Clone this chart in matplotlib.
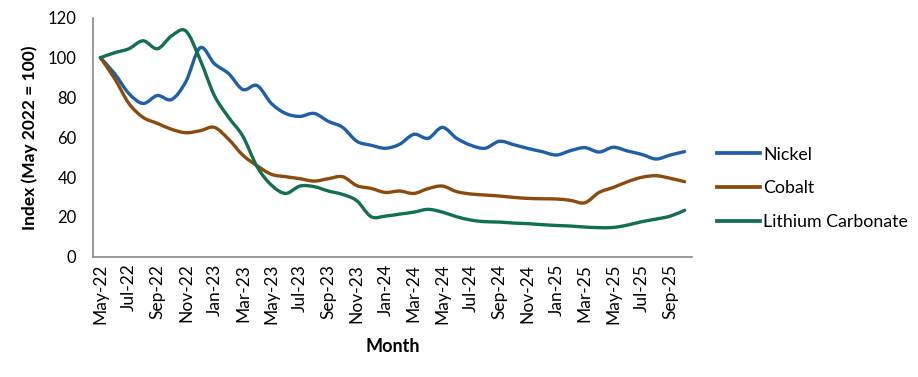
import matplotlib.pyplot as plt
from matplotlib.path import Path
from matplotlib.patches import PathPatch
import numpy as np

# monthly index values, May-22 .. Oct-25 (May 2022 = 100)
nickel = [100, 92, 82, 77, 81, 79, 88, 105, 97, 92, 84, 86, 77, 72, 70.5, 72,
          68, 65, 58, 56, 54.5, 56.5, 61.5, 59.5, 65, 59.5, 56, 54.5, 58, 56.3,
          54.4, 52.8, 51.1, 53.3, 54.8, 52.6, 55, 53.1, 51.4, 49.1, 51.1, 52.8]
cobalt = [100, 89.5, 77, 70, 67, 64, 62.3, 63.3, 65, 59, 51, 45.7, 41.4, 40.2,
          39.2, 38, 39.2, 40.2, 35.7, 34.3, 32.3, 33, 31.8, 34.2, 35.5, 32.7,
          31.5, 31, 30.5, 29.8, 29.3, 29.1, 29, 28.3, 27.1, 32.3, 34.8, 37.7,
          39.9, 40.7, 39.4, 37.7]
lithium = [100, 102.5, 104.5, 108.5, 104.5, 111, 113.4, 99, 81, 70, 60.5, 45.2,
           36, 31.8, 35.5, 35.2, 33, 31.3, 28.1, 20.1, 20.4, 21.4, 22.4, 23.8,
           22.4, 20.1, 18.4, 17.6, 17.4, 16.9, 16.6, 16.1, 15.7, 15.4, 14.9,
           14.6, 14.7, 15.9, 17.6, 18.9, 20.4, 23.3]

tick_labels = ['May-22', 'Jul-22', 'Sep-22', 'Nov-22', 'Jan-23', 'Mar-23', 'May-23',
               'Jul-23', 'Sep-23', 'Nov-23', 'Jan-24', 'Mar-24', 'May-24', 'Jul-24',
               'Sep-24', 'Nov-24', 'Jan-25', 'Mar-25', 'May-25', 'Jul-25', 'Sep-25']

series = [('Nickel', nickel, '#1F5FA8'),
          ('Cobalt', cobalt, '#8A4B0C'),
          ('Lithium Carbonate', lithium, '#13704F')]

plt.rcParams['font.family'] = ['Lato', 'DejaVu Sans']


def smooth_path(x, y):
    # Excel-like smoothed line: cubic bezier segments through every point
    pts = np.column_stack([x, y])
    n = len(pts)
    verts = [pts[0]]
    codes = [Path.MOVETO]
    for i in range(n - 1):
        p0 = pts[max(i - 1, 0)]
        p1 = pts[i]
        p2 = pts[i + 1]
        p3 = pts[min(i + 2, n - 1)]
        c1 = p1 + (p2 - p0) / 6.0
        c2 = p2 - (p3 - p1) / 6.0
        verts += [c1, c2, p2]
        codes += [Path.CURVE4] * 3
    return Path(verts, codes)


fig = plt.figure(figsize=(9.18, 3.77), dpi=100)
ax = fig.add_axes([0.1016, 0.3191, 0.6519, 0.6334])

x = np.arange(len(nickel))
for name, vals, color in series:
    patch = PathPatch(smooth_path(x, vals), facecolor='none', edgecolor=color,
                      lw=2.4, capstyle='round', joinstyle='round')
    ax.add_patch(patch)
    ax.plot([], [], color=color, lw=2.7, label=name)

ax.set_xlim(-0.5, len(nickel) - 0.5)
ax.set_ylim(0, 120)
ax.set_yticks(range(0, 121, 20))
ax.set_xticks(x[::2])
ax.set_xticklabels(tick_labels, rotation=90)
ax.tick_params(axis='y', length=0, pad=12, labelsize=12)
ax.tick_params(axis='x', length=0, pad=5, labelsize=12.5)

for s in ['top', 'right']:
    ax.spines[s].set_visible(False)
for s in ['left', 'bottom']:
    ax.spines[s].set_color('#888888')
    ax.spines[s].set_linewidth(1.2)

ax.set_xlabel('Month', fontsize=13, fontweight='bold', labelpad=10)
ax.set_ylabel('Index (May 2022 = 100)', fontsize=12.5, fontweight='bold', labelpad=7)

fig.legend(loc='center left', bbox_to_anchor=(0.781, 0.50), frameon=False,
           fontsize=12.8, handlelength=2.4, handletextpad=0.2, labelspacing=1.0,
           borderpad=0, borderaxespad=0)

fig.savefig('out.png', dpi=100)
